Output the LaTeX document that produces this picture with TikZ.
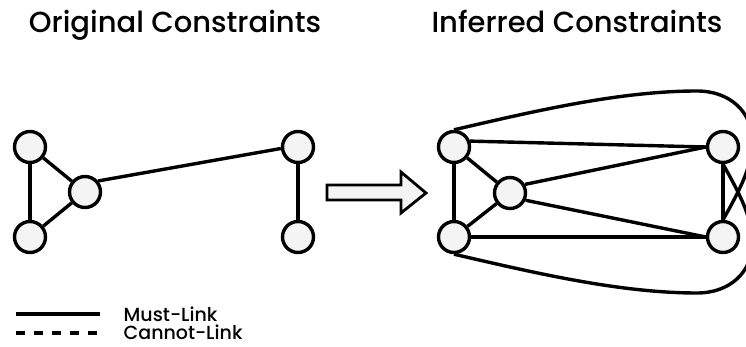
\documentclass[tikz,border=0pt]{standalone}
\usepackage{fontspec}
\setmainfont{Poppins}[UprightFont={* Medium}]
\definecolor{nodegray}{HTML}{F4F4F4}
\begin{document}
\begin{tikzpicture}[x=1pt,y=-1pt,line width=3.4pt,
  vtx/.style={circle,draw,fill=nodegray,minimum size=31pt,inner sep=0pt},
  titletext/.style={anchor=base,font=\fontsize{29}{34}\selectfont,inner sep=0pt},
  legtext/.style={anchor=base west,font=\fontsize{19}{22}\selectfont,inner sep=0pt},
  link/.style={line width=3.4pt}]
\useasboundingbox (0,0) rectangle (746,347);
\clip (0,0) rectangle (746,347);
% titles
\node[titletext] (t1) at (175,33) {Original Constraints};
\node[titletext] (t2) at (577,33) {Inferred Constraints};
% left graph
\node[vtx] (A) at (30,147) {};
\node[vtx] (B) at (30,237) {};
\node[vtx] (C) at (85,192) {};
\node[vtx] (D) at (298,147) {};
\node[vtx] (E) at (298,237) {};
\draw[link] (A) -- (B);
\draw[link] (A) -- (C);
\draw[link] (B) -- (C);
\draw[link] (C.40) -- (D.185);
\draw[link] (D) -- (E);
% arrow
\draw[line width=2.8pt,fill=nodegray,line join=miter]
  (327,185) -- (401,185) -- (401,172) -- (426,193) -- (401,213) -- (401,200) -- (327,200) -- cycle;
% right graph
\node[vtx] (P) at (454,147) {};
\node[vtx] (Q) at (454,237) {};
\node[vtx] (R) at (510,193) {};
\node[vtx] (S) at (723,147) {};
\node[vtx] (T) at (723,237) {};
\draw[link] (P.20) -- (S.west);
\draw[link] (P) -- (Q);
\draw[link] (P) -- (R);
\draw[link] (Q) -- (R);
\draw[link] (Q) -- (T);
\draw[link] (R.30) -- (S.west);
\draw[link] (R.-25) -- (T.west);
\draw[link] (S) -- (T);
\draw[link] (P.north) .. controls (535,111) and (620,91) .. (697,91)
  .. controls (730,91) and (752,112) .. (752,140)
  .. controls (752,160) and (748,176) .. (T.north);
\draw[link] (Q.south) .. controls (535,273) and (620,293) .. (697,293)
  .. controls (730,293) and (752,272) .. (752,244)
  .. controls (752,224) and (748,208) .. (S.south);
% legend
\coordinate (m1) at (16,314);
\coordinate (m2) at (100,314);
\coordinate (c1) at (16,333);
\coordinate (c2) at (100,333);
\draw[line width=3.4pt] (m1) -- (m2);
\draw[line width=3.4pt,dash pattern=on 9pt off 9pt] (c1) -- (c2);
\node[legtext] (lm) at (122,321) {Must-Link};
\node[legtext] (lc) at (122,339) {Cannot-Link};
\end{tikzpicture}
\end{document}
